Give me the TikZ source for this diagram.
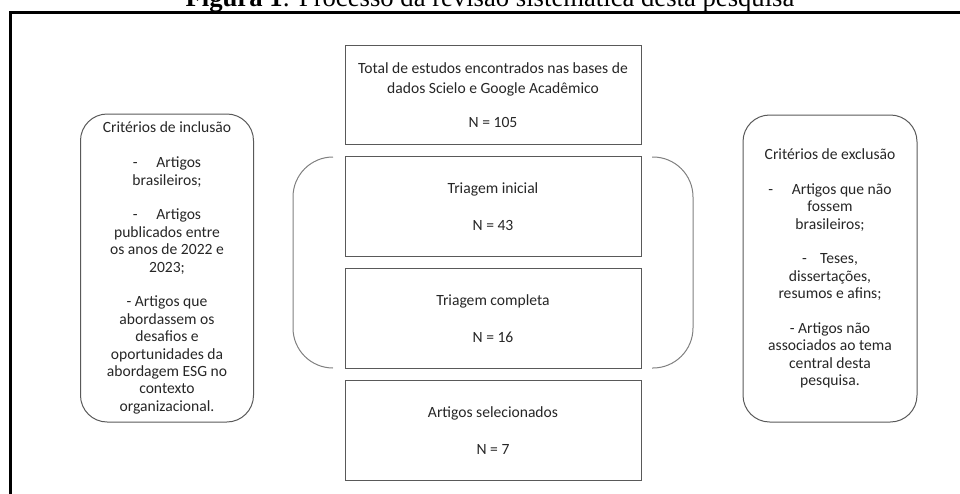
\documentclass[tikz,border=0pt]{standalone}
\usepackage{fontspec}
\setmainfont{Carlito}
\newfontfamily\titlefont{Liberation Serif}
\begin{document}
\begin{tikzpicture}[x=0.75pt,y=-0.75pt,
  boxtxt/.style={font=\fontsize{11.7}{15}\selectfont, text=black!85, align=center},
  stagebox/.style={boxtxt, draw=black!65, line width=0.75pt, minimum width=222pt, minimum height=74.5pt, inner sep=0pt},
  critbox/.style={boxtxt, font=\fontsize{11.7}{13.05}\selectfont, draw=black!65, line width=0.75pt, rounded corners=20pt, inner sep=0pt},
  bracketline/.style={draw=black!50, line width=0.75pt, rounded corners=30pt},
  frameline/.style={line width=1.7pt, line join=miter}
]
\useasboundingbox (0,0) rectangle (960,493);
% title (partly cut off at the top, as in the reference)
\node[anchor=base, font=\titlefont\fontsize{20}{24}\selectfont, inner sep=0pt] (title) at (490,6)
  {\textbf{Figura 1}: Processo da revisão sistemática desta pesquisa};
% outer frame
\draw[frameline] (10.5,520) -- (10.5,12.5) -- (980,12.5);
% central boxes
\node[stagebox] (total) at (493,95) {Total de estudos encontrados nas bases de\\dados Scielo e Google Acadêmico\\[10pt]N = 105};
\node[stagebox] (ini) at (493,206.5) {Triagem inicial\\[12.45pt]N = 43};
\node[stagebox] (comp) at (493,318.5) {Triagem completa\\[12.45pt]N = 16};
\node[stagebox] (sel) at (493,430.5) {Artigos selecionados\\[12.45pt]N = 7};
% criteria boxes
\node[critbox, minimum width=129.75pt, minimum height=231pt] (inc) at (167,268)
  {Critérios de inclusão\\[13.05pt]
   -\hspace{14pt}Artigos\\
   brasileiros;\\[13.05pt]
   -\hspace{14pt}Artigos\\
   publicados entre\\
   os anos de 2022 e\\
   2023;\\[13.05pt]
   - Artigos que\\
   abordassem os\\
   desafios e\\
   oportunidades da\\
   abordagem ESG no\\
   contexto\\
   organizacional.};
\node[critbox, minimum width=130.5pt, minimum height=230.25pt] (exc) at (830,268.5)
  {Critérios de exclusão\\[13.05pt]
   -\hspace{14pt}Artigos que não\\
   fossem\\
   brasileiros;\\[13.05pt]
   -\hspace{10pt}Teses,\\
   dissertações,\\
   resumos e afins;\\[13.05pt]
   - Artigos não\\
   associados ao tema\\
   central desta\\
   pesquisa.};
% brackets around the screening stages
\coordinate (lt) at (333,157);
\coordinate (lb) at (333,368);
\coordinate (rt) at (652,157);
\coordinate (rb) at (652,368);
\draw[bracketline] (lt) -- (293,157) -- (293,368) -- (lb);
\draw[bracketline] (rt) -- (693,157) -- (693,368) -- (rb);
\end{tikzpicture}
\end{document}
